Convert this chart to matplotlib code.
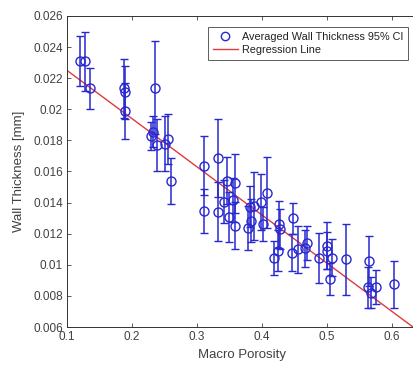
import matplotlib
matplotlib.use("Agg")
import matplotlib.pyplot as plt
from matplotlib.lines import Line2D
import numpy as np

plt.rcParams['font.family'] = ['Liberation Sans', 'DejaVu Sans']

porosity = [0.120, 0.128, 0.135, 0.187, 0.189, 0.190, 0.230, 0.233, 0.235, 0.238,
            0.251, 0.256, 0.260, 0.311, 0.311, 0.332, 0.332, 0.342, 0.346, 0.350,
            0.356, 0.359, 0.359, 0.379, 0.382, 0.383, 0.388, 0.398, 0.401, 0.408,
            0.419, 0.425, 0.426, 0.427, 0.446, 0.448, 0.455, 0.466, 0.470, 0.487,
            0.4995, 0.4995, 0.505, 0.507, 0.529, 0.563, 0.565, 0.568, 0.575, 0.603]
thickness = [0.0231, 0.0231, 0.02135, 0.02135, 0.0211, 0.0199, 0.0183, 0.01856, 0.0214, 0.0177,
             0.0178, 0.0181, 0.0154, 0.01637, 0.01346, 0.01685, 0.01342, 0.01406, 0.01541, 0.01309,
             0.01417, 0.01524, 0.01252, 0.01235, 0.01374, 0.01284, 0.01378, 0.01406, 0.01262, 0.01464,
             0.01046, 0.01091, 0.0126, 0.0123, 0.01078, 0.01299, 0.0110, 0.01106, 0.01142, 0.01046,
             0.01123, 0.01091, 0.00909, 0.01046, 0.01035, 0.00855, 0.01026, 0.0082, 0.00859, 0.00875]
ci95 = [0.0016, 0.0019, 0.0013, 0.0019, 0.0017, 0.0018, 0.0009, 0.0010, 0.0030, 0.0017,
        0.0018, 0.0016, 0.0015, 0.0019, 0.0014, 0.0025, 0.0019, 0.0014, 0.0015, 0.0016,
        0.0014, 0.0019, 0.0015, 0.0014, 0.0013, 0.0014, 0.0022, 0.0018, 0.0011, 0.0023,
        0.0011, 0.0013, 0.0015, 0.0013, 0.0012, 0.0010, 0.0015, 0.0012, 0.0011, 0.0016,
        0.0015, 0.0012, 0.0010, 0.0012, 0.0023, 0.0013, 0.0016, 0.0010, 0.0011, 0.0015]

reg_intercept = 0.0256
reg_slope = -0.031
reg_x = np.array([0.1, 0.65])
reg_y = reg_intercept + reg_slope * reg_x

xticks = [0.1, 0.2, 0.3, 0.4, 0.5, 0.6]
yticks = [0.006, 0.008, 0.01, 0.012, 0.014, 0.016, 0.018, 0.02, 0.022, 0.024, 0.026]
ytick_labels = ['0.006', '0.008', '0.01', '0.012', '0.014', '0.016', '0.018', '0.02', '0.022', '0.024', '0.026']

W, H = 414, 368
fig = plt.figure(figsize=(W / 100, H / 100), dpi=100)
left_px, right_px, top_px, bottom_px = 67, 418, 16, 327
ax = fig.add_axes([left_px / W, 1 - bottom_px / H, (right_px - left_px) / W, (bottom_px - top_px) / H])

blue = '#2828d0'
red = '#e03a3a'
ax.errorbar(porosity, thickness, yerr=ci95, fmt='o', mfc='none', mec=blue, ms=6.5, mew=1.0,
            ecolor=blue, elinewidth=1.1, capsize=3, capthick=1.1, zorder=3)
ax.plot(reg_x, reg_y, color=red, lw=1.0, zorder=2)

ax.set_xlim(0.1, 0.64)
ax.set_ylim(0.006, 0.026)
ax.set_xticks(xticks)
ax.set_xticklabels([f'{t:g}' for t in xticks])
ax.set_yticks(yticks)
ax.set_yticklabels(ytick_labels)

tc = '#404040'
ax.tick_params(direction='in', top=True, right=True, length=3, width=0.6,
               labelsize=8.5, colors=tc, pad=3)
for s in ax.spines.values():
    s.set_color('#333333')
    s.set_linewidth(0.7)

ax.set_xlabel('Macro Porosity', fontsize=9.5, color=tc, labelpad=4)
ax.set_ylabel('Wall Thickness [mm]', fontsize=9.5, color=tc, labelpad=6)

handles = [Line2D([], [], ls='none', marker='o', mfc='none', mec=blue, ms=6, mew=1.0),
           Line2D([], [], color=red, lw=1.0)]
labels = ['Averaged Wall Thickness 95% CI', 'Regression Line']
leg = ax.legend(handles, labels, loc='upper left',
                bbox_to_anchor=((208 - left_px) / (right_px - left_px), 1 - (27 - top_px) / (bottom_px - top_px)),
                fontsize=7.8, frameon=True, fancybox=False, edgecolor='#333333',
                borderpad=0.45, labelspacing=0.3, handlelength=2.3, handletextpad=0.4,
                borderaxespad=0)
leg.get_frame().set_linewidth(0.7)
for t in leg.get_texts():
    t.set_color('#222222')

fig.savefig('out.png', dpi=100)
